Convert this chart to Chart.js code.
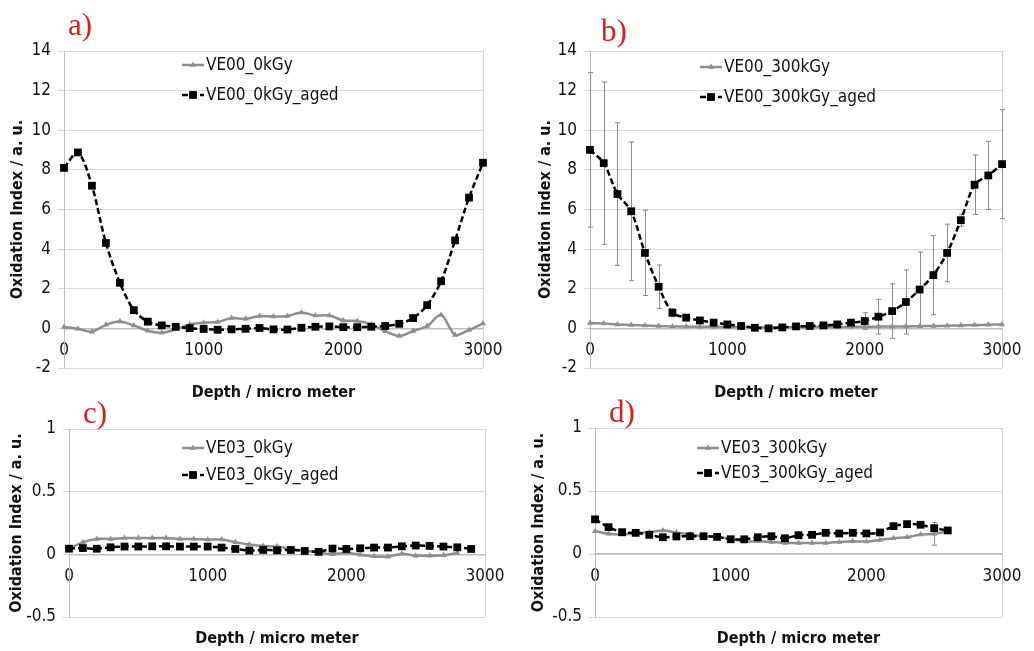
<!DOCTYPE html>
<html lang="en">
<head>
<meta charset="UTF-8">
<title>Oxidation index profiles</title>
<script src="https://cdn.jsdelivr.net/npm/chart.js@4"></script>
<style>
  body { margin: 0; background: #fff; }
  canvas { position: absolute; }
</style>
</head>
<body>
<canvas id="chartA" width="517" height="405" style="left:0;top:0"></canvas>
<canvas id="chartB" width="517" height="405" style="left:517px;top:0"></canvas>
<canvas id="chartC" width="517" height="253" style="left:0;top:398px"></canvas>
<canvas id="chartD" width="517" height="253" style="left:517px;top:398px"></canvas>
<script>
// depth positions (micro meter)
const depth3000 = [0,100,200,300,400,500,600,700,800,900,1000,1100,1200,1300,1400,1500,1600,1700,1800,1900,2000,2100,2200,2300,2400,2500,2600,2700,2800,2900,3000];
const depth2900 = [0,100,200,300,400,500,600,700,800,900,1000,1100,1200,1300,1400,1500,1600,1700,1800,1900,2000,2100,2200,2300,2400,2500,2600,2700,2800,2900];
const depth2600 = [0,100,200,300,400,500,600,700,800,900,1000,1100,1200,1300,1400,1500,1600,1700,1800,1900,2000,2100,2200,2300,2400,2500,2600];
const xTicks = [0, 1000, 2000, 3000];

// a) VE00 0 kGy
const ve00_0 = [0.07,-0.02,-0.17,0.18,0.35,0.15,-0.12,-0.22,-0.05,0.2,0.28,0.32,0.52,0.48,0.62,0.6,0.62,0.8,0.65,0.65,0.4,0.37,0.2,-0.15,-0.38,-0.13,0.12,0.68,-0.33,-0.08,0.25];
const ve00_0_aged = [8.1,8.88,7.2,4.31,2.3,0.92,0.34,0.15,0.08,0.01,-0.03,-0.07,-0.05,-0.02,0.02,-0.05,-0.06,0.03,0.08,0.1,0.06,0.06,0.08,0.12,0.23,0.52,1.17,2.38,4.44,6.6,8.36];

// b) VE00 300 kGy
const ve00_300 = [0.27,0.24,0.2,0.17,0.14,0.12,0.1,0.09,0.08,0.08,0.07,0.07,0.06,0.06,0.06,0.06,0.06,0.07,0.07,0.08,0.08,0.09,0.1,0.1,0.11,0.12,0.13,0.15,0.17,0.18,0.2];
const ve00_300_aged = [9.01,8.34,6.78,5.91,3.81,2.1,0.79,0.54,0.4,0.29,0.2,0.12,0.03,0.0,0.05,0.1,0.12,0.15,0.2,0.29,0.37,0.59,0.87,1.33,1.96,2.69,3.81,5.46,7.25,7.72,8.29];
const ve00_300_aged_err = [3.9,4.1,3.6,3.5,2.15,1.1,0.2,0.15,0.12,0.1,0.1,0.1,0.08,0.08,0.08,0.08,0.1,0.1,0.12,0.15,0.42,0.87,1.38,1.62,1.9,2.0,1.45,0.3,1.5,1.72,2.75];

// c) VE03 0 kGy
const ve03_0 = [0.043,0.097,0.123,0.123,0.13,0.13,0.13,0.13,0.123,0.123,0.118,0.118,0.097,0.078,0.067,0.062,0.043,0.03,0.016,0.0,0.013,-0.003,-0.016,-0.019,0.005,-0.011,-0.011,-0.008,0.011,null];
const ve03_0_aged = [0.045,0.05,0.045,0.056,0.062,0.062,0.064,0.064,0.062,0.062,0.062,0.054,0.043,0.03,0.035,0.032,0.035,0.027,0.02,0.046,0.043,0.048,0.054,0.054,0.064,0.07,0.067,0.062,0.056,0.043];

// d) VE03 300 kGy
const ve03_300 = [0.181,0.16,0.155,0.165,0.173,0.187,0.171,0.155,0.141,0.133,0.12,0.099,0.101,0.096,0.088,0.088,0.088,0.088,0.096,0.101,0.099,0.112,0.125,0.133,0.155,0.16,0.18];
const ve03_300_err = [0,0,0,0,0,0,0,0,0,0,0,0,0,0,0,0,0,0,0,0,0,0,0,0,0,0.09,0];
const ve03_300_aged = [0.275,0.213,0.173,0.168,0.152,0.133,0.139,0.141,0.141,0.136,0.117,0.117,0.133,0.141,0.125,0.149,0.152,0.168,0.163,0.168,0.163,0.171,0.221,0.237,0.232,0.205,0.187];

const GRAY = '#8e8e8e';
const TEXT = '#111';
const FONT = "'DejaVu Sans Condensed', 'DejaVu Sans', sans-serif";

// right edge of the plot box (left edge is the y axis line)
const frame = {
  id: 'frame',
  beforeDatasetsDraw(chart) {
    const { ctx, chartArea: a } = chart;
    ctx.save();
    ctx.strokeStyle = '#cfcfcf';
    ctx.lineWidth = 1;
    ctx.beginPath();
    ctx.moveTo(a.right + 0.5, a.top);
    ctx.lineTo(a.right + 0.5, a.bottom);
    ctx.stroke();
    ctx.restore();
  }
};

const errorBars = {
  id: 'errorBars',
  beforeDatasetsDraw(chart) {
    const { ctx, scales: { x, y } } = chart;
    ctx.save();
    ctx.strokeStyle = '#8a8a8a';
    ctx.lineWidth = 1;
    chart.data.datasets.forEach(ds => {
      if (!ds.errors) return;
      ds.errors.forEach((e, i) => {
        const v = ds.data[i];
        if (!e || v == null) return;
        const px = Math.round(x.getPixelForValue(chart.data.labels[i])) + 0.5;
        const top = y.getPixelForValue(v + e);
        const bot = y.getPixelForValue(v - e);
        ctx.beginPath();
        ctx.moveTo(px, top); ctx.lineTo(px, bot);
        ctx.moveTo(px - 2.5, top); ctx.lineTo(px + 2.5, top);
        ctx.moveTo(px - 2.5, bot); ctx.lineTo(px + 2.5, bot);
        ctx.stroke();
      });
    });
    ctx.restore();
  }
};

function marker(ctx, style, r, x, y, color) {
  ctx.fillStyle = color;
  ctx.beginPath();
  if (style === 'rect') {
    const s = r * Math.SQRT1_2;
    ctx.rect(x - s, y - s, 2 * s, 2 * s);
  } else {
    ctx.moveTo(x, y - r);
    ctx.lineTo(x + r * 0.866, y + r * 0.5);
    ctx.lineTo(x - r * 0.866, y + r * 0.5);
    ctx.closePath();
  }
  ctx.fill();
}

// legend drawn inside the plot area, Excel style
const innerLegend = {
  id: 'innerLegend',
  afterDatasetsDraw(chart, args, opts) {
    const ctx = chart.ctx;
    ctx.save();
    chart.data.datasets.forEach((ds, i) => {
      const x = opts.x, y = opts.y + i * opts.gap;
      ctx.strokeStyle = ds.borderColor;
      ctx.lineWidth = ds.borderWidth;
      ctx.setLineDash(ds.borderDash || []);
      ctx.beginPath();
      ctx.moveTo(x, y);
      ctx.lineTo(x + 22, y);
      ctx.stroke();
      ctx.setLineDash([]);
      marker(ctx, ds.pointStyle, ds.pointRadius, x + 11, y, ds.borderColor);
      ctx.fillStyle = TEXT;
      ctx.font = '17px ' + FONT;
      ctx.textBaseline = 'middle';
      ctx.fillText(ds.label, x + 24, y + 1);
    });
    ctx.restore();
  }
};

const panelLetter = {
  id: 'panelLetter',
  afterDraw(chart, args, opts) {
    const ctx = chart.ctx;
    ctx.save();
    ctx.fillStyle = '#d81e1e';
    ctx.font = "31px 'Liberation Serif', 'Times New Roman', serif";
    ctx.textBaseline = 'alphabetic';
    ctx.fillText(opts.text, opts.x, opts.y);
    ctx.restore();
  }
};

function makePanel(id, o) {
  const titleH = 16 * 1.2;
  return new Chart(document.getElementById(id), {
    type: 'line',
    data: {
      labels: o.depth,
      datasets: [
        { label: o.names[0], data: o.plain, errors: o.plainErr, borderColor: GRAY, backgroundColor: GRAY,
          borderWidth: 2.5, pointStyle: 'triangle', pointRadius: 3.5, pointBorderWidth: 0,
          tension: 0.3, order: 1, clip: false },
        { label: o.names[1], data: o.aged, errors: o.agedErr, borderColor: '#000', backgroundColor: '#000',
          borderWidth: 2.5, borderDash: [6, 3], pointStyle: 'rect', pointRadius: 5.5, pointBorderWidth: 0,
          tension: 0.3, order: 0, clip: false }
      ]
    },
    options: {
      responsive: false,
      animation: false,
      events: [],
      layout: { padding: { left: 0, top: o.area.t, right: o.W - o.area.r, bottom: o.H - o.area.b - titleH - o.xtp } },
      scales: {
        x: {
          type: 'linear', position: { y: 0 }, min: 0, max: 3000,
          afterBuildTicks: s => { s.ticks = xTicks.map(v => ({ value: v })); },
          ticks: { padding: 12.5, color: TEXT, font: { family: FONT, size: 17 }, callback: v => String(v) },
          grid: { display: false, drawTicks: false },
          border: { display: true, color: '#bdbdbd', width: 1.5 }
        },
        y: {
          min: o.yMin, max: o.yMax,
          afterBuildTicks: s => { s.ticks = o.yTicks.map(v => ({ value: v })); },
          afterFit: s => { s.width = o.area.l; },
          ticks: { padding: 7, color: TEXT, font: { family: FONT, size: 17 }, callback: v => String(v) },
          grid: { color: '#d9d9d9', tickLength: 6 },
          border: { color: '#bdbdbd' },
          title: { display: true, text: o.yTitle, color: TEXT, font: { family: FONT, size: 16, weight: 'bold' },
                   padding: { top: o.ytp, bottom: 0 } }
        }
      },
      plugins: {
        legend: { display: false },
        tooltip: { enabled: false },
        title: { display: true, position: 'bottom', fullSize: false, text: 'Depth / micro meter', color: TEXT,
                 font: { family: FONT, size: 16, weight: 'bold' }, padding: { top: o.xtp, bottom: 0 } },
        innerLegend: o.legend,
        panelLetter: o.letter
      }
    },
    plugins: [frame, errorBars, innerLegend, panelLetter]
  });
}

const bigTicks = [-2, 0, 2, 4, 6, 8, 10, 12, 14];
const smallTicks = [-0.5, 0, 0.5, 1];

makePanel('chartA', {
  W: 517, H: 405, area: { l: 64, t: 51, r: 483, b: 368 }, ytp: 8.4, xtp: 15.4,
  depth: depth3000, plain: ve00_0, aged: ve00_0_aged,
  names: ['VE00_0kGy', 'VE00_0kGy_aged'],
  yMin: -2, yMax: 14, yTicks: bigTicks, yTitle: 'Oxidation Index / a. u.',
  legend: { x: 182, y: 65, gap: 30 }, letter: { text: 'a)', x: 68, y: 35 }
});

makePanel('chartB', {
  W: 517, H: 405, area: { l: 73, t: 51, r: 492, b: 368 }, ytp: 19.4, xtp: 15.4,
  depth: depth3000, plain: ve00_300, aged: ve00_300_aged, agedErr: ve00_300_aged_err,
  names: ['VE00_300kGy', 'VE00_300kGy_aged'],
  yMin: -2, yMax: 14, yTicks: bigTicks, yTitle: 'Oxidation index / a. u.',
  legend: { x: 183, y: 67, gap: 30 }, letter: { text: 'b)', x: 84, y: 41 }
});

makePanel('chartC', {
  W: 517, H: 253, area: { l: 69, t: 31, r: 488, b: 219 }, ytp: 7.4, xtp: 12.4,
  depth: depth2900, plain: ve03_0, aged: ve03_0_aged,
  names: ['VE03_0kGy', 'VE03_0kGy_aged'],
  yMin: -0.5, yMax: 1, yTicks: smallTicks, yTitle: 'Oxidation Index / a. u.',
  legend: { x: 182, y: 50, gap: 27 }, letter: { text: 'c)', x: 83, y: 25 }
});

makePanel('chartD', {
  W: 517, H: 253, area: { l: 78, t: 30, r: 495, b: 219 }, ytp: 12.4, xtp: 12.4,
  depth: depth2600, plain: ve03_300, plainErr: ve03_300_err, aged: ve03_300_aged,
  names: ['VE03_300kGy', 'VE03_300kGy_aged'],
  yMin: -0.5, yMax: 1, yTicks: smallTicks, yTitle: 'Oxidation Index / a. u.',
  legend: { x: 180, y: 50, gap: 25 }, letter: { text: 'd)', x: 92, y: 24 }
});
</script>
</body>
</html>
